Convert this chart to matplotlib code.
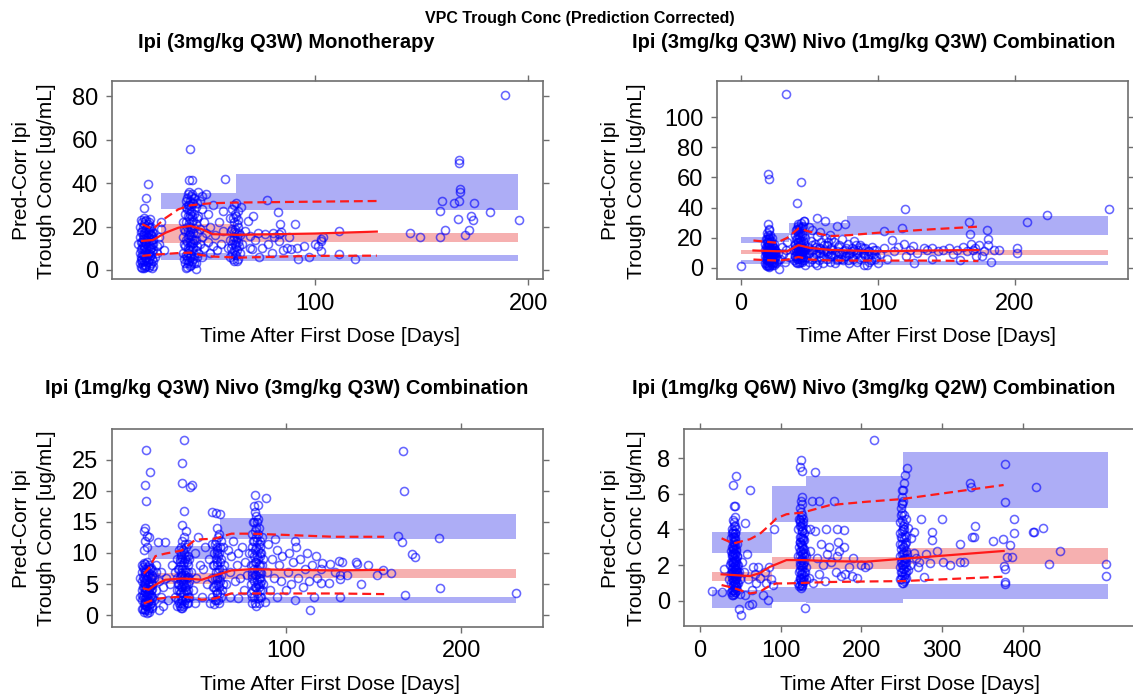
import matplotlib
matplotlib.use('Agg')
import matplotlib.pyplot as plt

plt.rcParams['font.family'] = ['Liberation Sans', 'DejaVu Sans']

W, H = 1133, 696

main_title = 'VPC Trough Conc (Prediction Corrected)'
panel_titles = ['Ipi (3mg/kg Q3W) Monotherapy',
                'Ipi (3mg/kg Q3W) Nivo (1mg/kg Q3W) Combination',
                'Ipi (1mg/kg Q3W) Nivo (3mg/kg Q3W) Combination',
                'Ipi (1mg/kg Q6W) Nivo (3mg/kg Q2W) Combination']
x_label = 'Time After First Dose [Days]'
y_label = ['Pred-Corr Ipi', 'Trough Conc [ug/mL]']

# ---------------- panel 1 : Ipi 3 mono ----------------
p1_obs = [(17, 12), (18, 3), (18, 8), (18, 15), (18, 20), (19, 1), (19, 5), (19, 10), (19, 13), (19, 18),
          (19, 22), (20, 0.8), (20, 4), (20, 7), (20, 11), (20, 14), (20, 17), (20, 21), (20, 24), (21, 2),
          (21, 6), (21, 9), (21, 12), (21, 16), (21, 19), (21, 23), (22, 1.5), (22, 5), (22, 8), (22, 13),
          (22, 15), (22, 18), (22, 22), (23, 3), (23, 7), (23, 10), (23, 14), (23, 20), (24, 4), (24, 9),
          (24, 12), (24, 17), (19.8, 28.8), (20.9, 33), (21.8, 39.8), (25, 6), (26, 11), (27, 15), (28, 19),
          (26, 8), (27, 12), (29, 9), (28, 22), (18.5, 6), (20.5, 2.5), (21.5, 10.5), (22.5, 19.5), (19.5, 16),
          (38, 8), (38, 15), (38, 22), (39, 3), (39, 11), (39, 18), (39, 26), (40, 1.5), (40, 6), (40, 13),
          (40, 20), (40, 28), (40, 33), (41, 4), (41, 9), (41, 16), (41, 24), (41, 30), (41, 36), (42, 2.5),
          (42, 7), (42, 12), (42, 19), (42, 27), (42, 34), (43, 5), (43, 10), (43, 17), (43, 23), (43, 31),
          (44, 3), (44, 14), (44, 21), (44, 29), (41.3, 55.7), (41.1, 41.4), (42.4, 41.6), (45, 8), (45, 25),
          (46, 12), (46, 19), (46, 32), (47, 6), (47, 15), (47, 28), (48, 10), (48, 22), (49, 17), (49, 35),
          (50, 13), (50, 26), (51, 8), (51, 20), (52, 30), (52, 11), (53, 16), (44, 0.5), (45, 36), (47, 34),
          (40.5, 25), (41.5, 20), (42.5, 31), (43.5, 14), (40.5, 10), (39.5, 32),
          (54, 9), (55, 22), (56, 12), (57, 27), (58, 41.8), (57, 18), (59, 10), (60, 24),
          (60, 6), (61, 12), (61, 19), (61, 28), (62, 4), (62, 9), (62, 15), (62, 22), (62, 30), (63, 7),
          (63, 11), (63, 17), (63, 25), (64, 5), (64, 13), (64, 20), (65, 8), (65, 16), (63, 31), (64, 27),
          (68.8, 22.6), (69.6, 15.7), (70.4, 9.5), (77.4, 32.2), (82.9, 26.5), (83.6, 21), (83, 16.5),
          (83, 13.4), (90.7, 21), (86.8, 10.3), (89, 9.5), (91.4, 10.3), (92.2, 4.9), (79.8, 8), (73.5, 17.2),
          (76.6, 16.5), (80.5, 17.2), (75, 10.3), (69.5, 10.3), (103.9, 15.2), (101.6, 11), (103, 8.8),
          (100, 12.2), (66, 12), (67, 18), (72, 14), (74, 6), (78, 12), (81, 15), (84, 17.5), (85, 9),
          (88, 15), (95, 11), (97, 6), (71, 25), (65.5, 29),
          (102.8, 14.3), (102.8, 13.2), (111.3, 17.9), (111.3, 7.2), (118.9, 4.9), (144.8, 17.1),
          (149.4, 15.3), (158.6, 15.3), (158.6, 27), (159.4, 31.6), (160.8, 18.6), (167.1, 23.7),
          (167.4, 31.6), (167.9, 37.3), (167.4, 49.2), (167.4, 50.7), (170.5, 16.3), (172.2, 18.6),
          (173, 25), (174.2, 23.2), (174.7, 31.1), (182, 26.7), (189, 80.5), (195.5, 23.2), (165, 31),
          (168, 36)]
p1_dense = [(18.5, 1.5), (18.5, 4.5), (18.5, 9.5), (18.5, 13), (18.5, 17.5), (18.5, 23), (19.5, 2.5),
            (19.5, 7), (19.5, 11.5), (19.5, 14.5), (19.5, 20), (20.5, 1.2), (20.5, 5.5), (20.5, 8.5),
            (20.5, 12.5), (20.5, 18.5), (20.5, 22.5), (21.5, 3.5), (21.5, 7.5), (21.5, 13.5), (21.5, 15),
            (21.5, 17.5), (21.5, 21), (22.5, 2.5), (22.5, 6.5), (22.5, 9.5), (22.5, 11), (22.5, 16.5),
            (22.5, 23.5), (23.5, 1), (23.5, 5), (23.5, 8.5), (23.5, 12), (23.5, 15.5), (23.5, 18), (19, 3.5),
            (20, 9.8), (21, 13.8), (22, 20), (23, 16.8), (24, 14.5), (24, 2), (19, 7.5), (20, 15.5), (21, 4.8),
            (38.5, 5), (38.5, 12), (38.5, 19), (39.5, 1), (39.5, 7), (39.5, 14), (39.5, 22), (39.5, 29),
            (40.5, 3), (40.5, 8), (40.5, 15), (40.5, 18), (40.5, 30), (40.5, 35), (41.5, 2), (41.5, 6),
            (41.5, 11), (41.5, 13), (41.5, 17.5), (41.5, 26), (41.5, 32), (42.5, 4), (42.5, 9), (42.5, 14.5),
            (42.5, 22), (42.5, 25), (42.5, 35), (43.5, 3), (43.5, 7.5), (43.5, 19.5), (43.5, 26), (43.5, 33),
            (44.5, 6), (44.5, 11), (44.5, 17), (44.5, 24), (44.5, 31), (40, 4.5), (41, 21.5), (42, 15.5),
            (43, 12.5), (44, 9), (42, 29.5), (41, 27.5),
            (60.5, 10), (60.5, 18), (61.5, 5), (61.5, 14), (61.5, 24), (62.5, 7), (62.5, 12), (62.5, 19),
            (62.5, 26), (63.5, 4), (63.5, 9), (63.5, 15), (63.5, 21), (64.5, 11), (64.5, 17), (61, 8),
            (62, 17.5), (63, 13.5), (64, 23), (60, 14)]
p1_bin_l = [28, 63.2]
p1_bin_r = [63.2, 195]
p1_up_lo = [28, 27.7]
p1_up_hi = [35.7, 44.2]
p1_md_lo = [12.5, 12.8]
p1_md_hi = [21, 17.1]
p1_lw_lo = [4.5, 4.0]
p1_lw_hi = [8, 7.0]
p1_t = [19, 24, 30, 36, 41.6, 47, 52, 64, 100, 129]
p1_med = [13.4, 13.8, 17.2, 19.5, 20.3, 18.8, 16.5, 16.2, 16.8, 17.7]
p1_p95 = [21.1, 18.8, 24.0, 28.0, 29.8, 30.4, 30.8, 31.1, 31.5, 31.8]
p1_p05 = [6.5, 7.0, 7.4, 7.8, 8.0, 6.8, 6.2, 5.7, 6.5, 6.6]

# ---------------- panel 2 : Ipi 3 + Nivo 1 ----------------
p2_obs = [(18, 3), (18, 8), (18, 12), (18, 16), (19, 1), (19, 5), (19, 10), (19, 14), (19, 19), (20, 2),
          (20, 6), (20, 9), (20, 11), (20, 13), (20, 17), (20, 22), (21, 0.5), (21, 4), (21, 7), (21, 12),
          (21, 15), (21, 20), (21, 25), (22, 3), (22, 8), (22, 10), (22, 14), (22, 18), (23, 2), (23, 6),
          (23, 11), (23, 16), (24, 4), (24, 9), (24, 13), (25, 7), (25, 12), (26, 3), (27, 10), (28, -0.4),
          (29, 6), (30, 14), (31, 9), (32, 4), (33, 12), (34, 17), (35, 7), (19.5, 7.5), (20.5, 4.5),
          (21.5, 9.5), (22.5, 12.5), (23.5, 8.5), (20.5, 15.5),
          (33.2, 115.6), (20.2, 62.2), (20.7, 58.9), (43.9, 57.3), (41, 43.3), (20.2, 28.9), (0, 1.6),
          (39, 5), (39, 12), (40, 8), (40, 16), (40, 22), (41, 3), (41, 10), (41, 14), (41, 19), (41, 26),
          (42, 6), (42, 12), (42, 17), (42, 24), (42, 29), (43, 4), (43, 9), (43, 15), (43, 21), (43, 27),
          (44, 7), (44, 11), (44, 18), (44, 30), (45, 5), (45, 13), (45, 23), (46, 9), (46, 16), (46, 31),
          (47, 2), (47, 12), (47, 20), (41.5, 7.5), (42.5, 10), (43.5, 13), (42.5, 20), (41.5, 22),
          (48, 7), (49, 14), (50, 4), (50, 10), (51, 18), (52, 6), (52, 25), (53, 12), (54, 3), (54, 16),
          (55, 9), (55.6, 33.3), (56, 21), (57, 5), (57, 13), (58, 10), (59, 17), (60, 3), (60, 8), (61, 12),
          (61.7, 31.1), (62, 20), (63, 6), (63, 15), (64, 10), (65, 4), (65, 22), (66, 13), (67, 8), (68, 17),
          (69, 3), (70, 11), (71, 6), (72, 15), (73, 9), (74, 19), (75, 5), (76, 12), (76.3, 29.3), (77, 8),
          (78, 16), (79, 3), (80, 10), (81, 13), (82, 6), (83, 18), (84, 9), (85, 4), (86, 12), (87, 15),
          (88, 7), (89, 10), (90, 2), (91, 13), (92.2, 1.8), (93, 8), (94, 11), (95, 5), (96, 14), (97, 9),
          (98, 6), (99, 12), (100, 3), (45.9, 31), (50, 27), (58, 24), (70, 28), (66, 19), (56, 2),
          (102, 9), (104.4, 24.4), (105, 13), (107, 6), (110.5, 18.4), (112, 11), (115, 14), (117.8, 26.7),
          (119, 16.2), (120, 38.9), (121, 8), (124, 12), (126, 14.4), (126.3, 3.3), (129, 10), (133.7, 13.3),
          (136, 12), (140, 13), (144, 11), (148, 12), (152, 13), (155, 9), (158, 12), (162, 14), (165, 11),
          (167, 30.7), (167.5, 22.5), (168, 16), (170, 12), (171, 13.5), (172, 8), (174, 15), (176, 8.1),
          (178, 11), (179.7, 25.2), (180.5, 19), (180.5, 15), (182.8, 3.8), (185, 12), (188.7, 11.9),
          (202, 13), (202, 9.7), (208.9, 30.7), (224, 35.1), (269, 39.1), (140, 6), (160, 5)]
p2_dense = [(18.5, 2), (18.5, 6), (18.5, 10), (18.5, 14), (18.5, 19), (19.5, 3), (19.5, 12), (19.5, 17),
            (19.5, 23), (20.5, 1), (20.5, 8), (20.5, 11), (20.5, 19), (20.5, 26), (21.5, 2), (21.5, 6),
            (21.5, 13), (21.5, 17), (21.5, 22), (22.5, 4), (22.5, 7), (22.5, 15), (22.5, 20), (23.5, 3),
            (23.5, 5), (23.5, 10), (23.5, 14), (24.5, 2), (24.5, 6), (24.5, 11), (24.5, 16), (19, 8), (20, 15),
            (21, 10), (22, 12), (23, 9), (24, 7), (25, 10), (26, 8), (27, 5),
            (39.5, 8), (39.5, 15), (40.5, 4), (40.5, 11), (40.5, 19), (40.5, 25), (41.5, 12), (41.5, 17),
            (41.5, 28), (42.5, 3), (42.5, 14), (42.5, 26), (43.5, 6), (43.5, 10), (43.5, 18), (43.5, 24),
            (44.5, 4), (44.5, 9), (44.5, 14), (44.5, 21), (44.5, 27), (45.5, 7), (45.5, 11), (45.5, 18),
            (45.5, 28), (46.5, 5), (46.5, 13), (46.5, 22), (40, 13), (41, 6), (42, 9), (43, 12), (44, 16),
            (45, 10), (46, 12),
            (49, 9), (51, 12), (53, 7), (55, 14), (57, 10), (59, 7), (61, 15), (63, 11), (65, 8), (67, 12),
            (69, 9), (71, 14), (73, 6), (75, 11), (77, 13), (79, 9), (81, 7), (83, 12), (85, 10), (87, 6),
            (89, 13), (91, 8), (93, 11), (95, 9), (97, 12), (99, 7), (52, 15), (58, 13), (64, 17), (70, 5),
            (76, 8), (82, 11), (88, 14), (94, 4), (60, 11), (66, 9), (72, 10), (78, 5), (84, 15), (90, 9)]
p2_bin_l = [0, 17, 35, 50, 77.6]
p2_bin_r = [17, 35, 50, 77.6, 268.5]
p2_up_lo = [16.6, 17, 22, 22, 21.9]
p2_up_hi = [20.8, 23, 30, 29.6, 34.2]
p2_md_lo = [9.3, 9.5, 10, 9.5, 8.7]
p2_md_hi = [12, 12.5, 13, 12.2, 11.6]
p2_lw_lo = [2.5, 2.8, 3, 2.5, 2.0]
p2_lw_hi = [5.0, 5.2, 5.5, 5.0, 4.6]
p2_t = [9.3, 26.3, 34, 42.2, 50.7, 65.4, 80, 99.5, 138.5, 173.6]
p2_med = [11.6, 11.1, 11.1, 15.1, 13.3, 12.0, 11.6, 11.1, 11.6, 11.9]
p2_p95 = [18.2, 16.7, 20.0, 26.2, 24.0, 21.1, 21.8, 23.3, 25.6, 27.4]
p2_p05 = [5.6, 4.9, 5.5, 7.3, 5.6, 5.0, 4.9, 4.9, 4.9, 4.6]

# ---------------- panel 3 : Ipi 1 + Nivo 3 Q3W ----------------
p3_obs = [(17, 3), (17, 6), (18, 1), (18, 2.5), (18, 4), (18, 5.5), (18, 7), (18, 8), (19, 0.5), (19, 1.8),
          (19, 3.2), (19, 4.5), (19, 6), (19, 7.5), (19, 10.5), (19, 13.5), (20, 1), (20, 2.2), (20, 3.8),
          (20, 5), (20, 6.5), (20, 8.2), (20, 12), (21, 0.3), (21, 1.5), (21, 2.8), (21, 4.2), (21, 5.8),
          (21, 7), (21, 11), (22, 1.2), (22, 2.5), (22, 3.5), (22, 5.2), (22, 6.8), (22, 8), (22, 12.5),
          (23, 2), (23, 4), (23, 6), (23, 7.6), (24, 1.5), (24, 3), (24, 5), (24, 7.2), (25, 2.5), (25, 6),
          (26, 4), (26, 8), (27, 11.8), (28, 0.8), (28, 5.5), (29, 3), (29, 7), (30, 4.5), (31, 11.8), (32, 6),
          (33, 2.5), (34, 5), (35, 8), (20.1, 26.5), (22.5, 23), (19.7, 20.9), (20.6, 18.3), (20, 14),
          (21, 12.8), (26, 7), (30, 1.5), (19.5, 2.6), (20.5, 4.4), (21.5, 6.3), (22.5, 1.8), (18.5, 7.8),
          (37, 3), (37, 7), (38, 1.5), (38, 4), (38, 6), (38, 9), (39, 2), (39, 5), (39, 7.5), (39, 10.5),
          (40, 1.2), (40, 3), (40, 5.5), (40, 8), (40, 11), (41, 2.5), (41, 4.5), (41, 6.5), (41, 9), (41, 12),
          (42, 1.8), (42, 3.5), (42, 6), (42, 8.5), (42, 10), (43, 2.8), (43, 5), (43, 7), (43, 9.5),
          (43, 13.5), (44, 4), (44, 6.2), (44, 8), (44, 11.5), (45, 3), (45, 5.5), (45, 9), (41, 14.5),
          (42, 16.8), (41.7, 28.1), (41.1, 24.5), (41.1, 21.3), (46.8, 20.9), (45.5, 20.6), (46, 7), (47, 4),
          (48, 10), (49, 6), (50, 12.6), (51, 8), (52, 3), (53, 7.5), (54, 11), (55, 5), (56, 9), (57, 2),
          (58, 11.5), (48, 2), (40.5, 3.8), (41.5, 5.2), (42.5, 7.2), (43.5, 2), (39.5, 9),
          (58, 3), (58, 6), (59, 1.8), (59, 4.5), (59, 8), (59, 10), (60, 2.5), (60, 5), (60, 7), (60, 9),
          (60, 12), (61, 3.5), (61, 6), (61, 8.5), (61, 11), (62, 2), (62, 4.5), (62, 7.5), (62, 10), (62, 13),
          (63, 3), (63, 6.5), (63, 9), (64, 5), (64, 11), (57.7, 16.5), (62.4, 16.3), (60, 16.4), (61, 14),
          (65, 8), (66, 5), (67, 10.5), (68, 3), (68, 7), (69, 9.5), (70, 12), (71, 5.5), (72, 8), (73, 2.8),
          (73, 10), (74, 6), (75, 11), (76, 4), (77, 8.5), (78, 6.5), (79, 10), (80, 3.5),
          (80, 5), (80, 8), (81, 2), (81, 6), (81, 10), (81, 13), (82, 3), (82, 5.5), (82, 7.5), (82, 9.5),
          (82, 12), (82, 15), (83, 1.5), (83, 4.5), (83, 6.5), (83, 8.5), (83, 11), (83, 14), (83, 16),
          (84, 2.8), (84, 5), (84, 7), (84, 9), (84, 10.5), (84, 13), (85, 4), (85, 6), (85, 8), (85, 12),
          (86, 3), (86, 6.8), (86, 10), (87, 5), (87, 9), (82.5, 19.3), (88.7, 18.9), (84, 17.7), (88, 2.2),
          (89, 7), (90, 11.5), (91, 4), (92, 9), (93, 6), (94, 12.2), (95, 3), (96, 8), (97, 5.5),
          (98, 9.5), (100, 4), (101, 7), (102, 10), (103, 5), (104, 8.5), (105, 2.5), (106, 11), (107, 6),
          (108, 9), (110, 4.5), (111, 7.5), (112, 10), (113, 5.5), (114, 0.9), (115, 8), (116, 3), (117, 9.5),
          (118, 6), (120, 7.5), (119.8, 5.2), (120.6, 8.4), (124.5, 5.2), (125.3, 8.2), (128, 7), (130, 8.7),
          (131, 6.4), (131, 5.9), (131, 2.9), (131.8, 8.6), (135, 6.5), (139.9, 8.6), (140.4, 8.2), (143, 5),
          (147, 8), (152.2, 6.4), (155.3, 7.3), (159.7, 6.8), (163.9, 12.7), (166.3, 11.7), (166.7, 26.3),
          (167.3, 20), (167.7, 3.2), (172.1, 9.8), (173.3, 9.3), (187.4, 12.4), (188, 4.4), (231.2, 3.5),
          (105, 12), (95, 10.5)]
p3_dense = [(18.5, 1), (18.5, 3), (18.5, 4.5), (18.5, 6.2), (19.5, 0.8), (19.5, 2), (19.5, 3.8), (19.5, 5.5),
            (19.5, 7), (20.5, 1.5), (20.5, 3), (20.5, 5.8), (20.5, 7.5), (21.5, 0.8), (21.5, 2.2), (21.5, 3.6),
            (21.5, 5), (21.5, 7.8), (22.5, 3), (22.5, 4.5), (22.5, 6), (22.5, 7.5), (23.5, 1.2), (23.5, 2.8),
            (23.5, 4.8), (23.5, 6.5), (18, 3.3), (19, 5.2), (20, 4.4), (21, 3.4), (22, 4.2), (23, 5.3),
            (24, 4.2), (24, 6.3), (20, 7), (21, 8.5), (22, 0.6), (19, 8.4), (23, 3.2), (20, 1.7),
            (38.5, 2.5), (38.5, 5), (38.5, 7.5), (39.5, 1.5), (39.5, 3.5), (39.5, 6), (39.5, 8.5), (40.5, 2),
            (40.5, 4.5), (40.5, 6.5), (40.5, 9.5), (41.5, 1.5), (41.5, 3.5), (41.5, 5.5), (41.5, 8),
            (41.5, 10.5), (42.5, 2.5), (42.5, 4.5), (42.5, 6.5), (42.5, 9), (42.5, 11.5), (43.5, 3.5),
            (43.5, 6), (43.5, 8.5), (44.5, 2), (44.5, 5), (44.5, 7), (44.5, 9.5), (40, 6.8), (41, 7.5),
            (42, 5), (43, 4), (44, 3), (40, 9.8), (42, 12.5), (43, 11), (39, 4), (41, 1.2),
            (58.5, 4.5), (58.5, 8), (59.5, 2.5), (59.5, 6), (59.5, 11.5), (60.5, 3.5), (60.5, 6), (60.5, 8),
            (60.5, 10.5), (61.5, 2.5), (61.5, 5), (61.5, 7), (61.5, 9.5), (61.5, 12.5), (62.5, 3.5),
            (62.5, 5.5), (62.5, 8.5), (62.5, 11), (63.5, 4), (63.5, 7.5), (60, 4), (61, 10), (62, 6), (63, 12),
            (80.5, 3), (80.5, 6.5), (80.5, 11), (81.5, 4), (81.5, 8), (81.5, 12), (81.5, 15), (82.5, 2),
            (82.5, 4.5), (82.5, 6.5), (82.5, 8.5), (82.5, 10.5), (82.5, 13.5), (82.5, 16.5), (83.5, 3.5),
            (83.5, 5.5), (83.5, 7.5), (83.5, 9.5), (83.5, 12), (83.5, 15), (84.5, 2), (84.5, 4.5), (84.5, 6),
            (84.5, 8), (84.5, 11.5), (84.5, 14), (85.5, 3), (85.5, 5), (85.5, 7), (85.5, 9.5), (85.5, 11),
            (86.5, 4), (86.5, 8), (86.5, 12.5), (82, 17.5), (83, 12.5), (84, 15.5), (85, 10), (86, 5.5), (81, 7)]
p3_bin_l = [21.7, 62.6, 85]
p3_bin_r = [62.6, 85, 231]
p3_up_lo = [9.1, 12.3, 12.3]
p3_up_hi = [11.2, 15.6, 16.2]
p3_md_lo = [5.0, 5.9, 6.0]
p3_md_hi = [6.8, 7.5, 7.5]
p3_lw_lo = [1.9, 2.0, 1.9]
p3_lw_hi = [2.9, 3.0, 2.9]
p3_t = [19.1, 21.9, 25.7, 31.3, 40.7, 48.3, 52, 59.6, 69, 80.2, 100, 127.3, 156]
p3_med = [4.3, 4.1, 4.9, 5.7, 5.9, 5.8, 5.7, 6.4, 7.2, 7.4, 7.3, 7.2, 7.3]
p3_p95 = [6.7, 7.5, 9.5, 9.9, 10.4, 12.1, 12.2, 12.3, 13.1, 13.1, 12.9, 12.6, 12.6]
p3_p05 = [1.9, 2.2, 2.6, 2.8, 3.0, 2.8, 2.5, 2.7, 3.5, 3.5, 3.5, 3.5, 3.4]

# ---------------- panel 4 : Ipi 1 Q6W + Nivo 3 Q2W ----------------
p4_obs = [(36, 1.2), (37, 2), (38, 0.5), (38, 1.5), (38, 2.8), (39, 1), (39, 2.2), (39, 3.5), (40, 0.3),
          (40, 1.3), (40, 1.8), (40, 2.5), (40, 3), (40, 4), (41, 0.6), (41, 1.1), (41, 1.6), (41, 2.1),
          (41, 2.7), (41, 3.3), (41, 4.5), (42, 0.4), (42, 0.9), (42, 1.4), (42, 1.9), (42, 2.4), (42, 2.9),
          (42, 3.6), (42, 4.2), (43, 0.7), (43, 1.2), (43, 1.7), (43, 2.3), (43, 3.1), (43, 3.8), (43, 4.7),
          (44, 0.5), (44, 1), (44, 1.5), (44, 2), (44, 2.6), (44, 3.4), (45, 0.8), (45, 1.3), (45, 1.8),
          (45, 2.2), (45, 2.8), (46, 0.6), (46, 1.5), (46, 2.5), (47, 1), (47, 2), (48, 1.6), (49, 0.4),
          (50, 1.2), (44.5, 7.0), (41.2, 6.5), (42, 5.3), (43, 5.3), (61.9, 6.2), (55.7, 4.37), (14.4, 0.56),
          (26.8, 0.47), (30, 1.8), (50.3, -0.8), (48.7, -0.47), (63.9, -0.2), (61, -0.24), (84.5, 0.04),
          (52, 2.2), (55, 1.6), (58, 2.6), (60, 1.2), (65, 0.6), (68, 1.5), (70, 1.0), (72, 1.9), (75, 1.3),
          (78, 0.3), (80, 1.6), (82, 1.0), (85, 1.9), (88, 1.2), (90, 0.9), (92, 4.0), (56, 0.3), (66, 1.9),
          (122, 1), (122, 2.5), (122, 4), (123, 0.8), (123, 1.6), (123, 3), (123, 4.6), (124, 1.2), (124, 2),
          (124, 2.8), (124, 3.6), (124, 5.2), (125, 0.7), (125, 1.5), (125, 2.3), (125, 3.2), (125, 4.2),
          (125, 5.6), (126, 1), (126, 1.9), (126, 2.6), (126, 3.5), (126, 4.8), (127, 0.9), (127, 1.7),
          (127, 2.4), (127, 3), (127, 3.9), (127, 5.8), (128, 1.3), (128, 2.1), (128, 2.9), (128, 4.4),
          (129, 1.1), (129, 2.2), (129, 3.4), (130, 1.6), (130, 2.7), (131, 1.9), (131, 4), (132, 1.2),
          (132, 2.5), (130, -0.39), (125.8, 7.89), (123.7, 7.5), (126, 7.3), (142.3, 7.23), (135, 1.3),
          (137, 2.8), (140, 1.0), (142, 3.9), (145, 2.4), (147, 1.5), (150, 3.2), (152, 2.0), (155, 1.1),
          (158, 2.6), (160, 3.0), (163, 2.2), (165.8, 5.59), (168, 1.6), (170, 2.5), (172, 2.8), (175, 1.4),
          (178, 3.0), (180, 1.5), (185, 1.9), (190, 2.4), (195, 1.3), (200, 2.0), (205, 1.9), (137, 4.0),
          (139, 5.6), (148, 5.6), (215.7, 9.0), (170, 4.0), (188, 1.4), (179, 3.96), (171, 3.3),
          (156.7, 4.05), (208, 2.0),
          (248, 1.2), (248, 2.5), (248, 3.8), (249, 1.6), (249, 2.9), (249, 5.2), (250, 1), (250, 2),
          (250, 3.2), (250, 4.5), (250, 6.2), (251, 1.4), (251, 2.3), (251, 3.5), (251, 4.9), (252, 1.8),
          (252, 2.7), (252, 4), (252, 5.6), (253, 1.1), (253, 2.1), (253, 3), (253, 4.3), (253, 6.6),
          (254, 1.5), (254, 2.4), (254, 3.7), (254, 7.05), (255, 1.9), (255, 2.8), (255, 4.6), (256, 1.3),
          (256, 2.2), (256, 3.3), (256.6, 7.42), (257, 2.6), (258, 1.7), (258, 4.1), (260, 2.0), (262, 3.5),
          (265.7, 3.88), (268, 2.4), (270, 1.9), (272, 2.2), (274, 4.58), (277.3, 1.35), (280, 2.6),
          (287.6, 3.88), (287.6, 3.41), (293.8, 2.79), (300, 4.58), (301.2, 2.15), (321.9, 2.15),
          (321.9, 3.16), (326.9, 2.15), (334.3, 6.58), (336, 6.4), (337.2, 3.59), (339.3, 3.59),
          (341.3, 4.21), (363.2, 3.35), (376, 3.44), (377.3, 1.97), (377.7, 1.78), (377.7, 1.07),
          (377.7, 0.92), (378.5, 7.65), (378.5, 5.52), (380.6, 2.47), (384.7, 3.12), (386.8, 2.47),
          (388.8, 4.58), (388.8, 3.78), (412.3, 3.84), (413.6, 3.88), (416.9, 6.36), (425.2, 4.09),
          (432.5, 2.06), (446, 2.77), (503.7, 2.04), (503.7, 1.4), (285, 2.1), (310, 2.0), (265, 2.7)]
p4_dense = [(39.5, 0.6), (39.5, 1.6), (39.5, 2.6), (39.5, 3.8), (40.5, 0.9), (40.5, 1.5), (40.5, 2.2),
            (40.5, 2.9), (40.5, 3.6), (41.5, 0.3), (41.5, 0.8), (41.5, 1.3), (41.5, 1.9), (41.5, 2.5),
            (41.5, 3), (41.5, 3.8), (42.5, 0.6), (42.5, 1.1), (42.5, 1.6), (42.5, 2.2), (42.5, 2.7),
            (42.5, 3.3), (42.5, 4.4), (43.5, 0.5), (43.5, 1), (43.5, 1.5), (43.5, 2), (43.5, 2.6), (43.5, 3.5),
            (44.5, 0.8), (44.5, 1.2), (44.5, 1.7), (44.5, 2.3), (44.5, 2.9), (44.5, 4), (45.5, 1), (45.5, 1.6),
            (45.5, 2.5), (45.5, 3.2), (40, 2.2), (42, 3.2), (44, 3.8), (43, 4.2), (41, 3.9), (46, 2), (47, 1.5),
            (123.5, 1.3), (123.5, 2.2), (123.5, 3.3), (123.5, 4.2), (124.5, 0.9), (124.5, 1.7), (124.5, 2.5),
            (124.5, 3.3), (124.5, 4.5), (125.5, 1.2), (125.5, 2), (125.5, 2.8), (125.5, 3.6), (125.5, 5),
            (126.5, 0.8), (126.5, 1.5), (126.5, 2.3), (126.5, 3.1), (126.5, 4.1), (126.5, 5.4), (127.5, 1.1),
            (127.5, 2), (127.5, 2.7), (127.5, 3.5), (127.5, 4.6), (128.5, 1.6), (128.5, 2.5), (128.5, 3.8),
            (129.5, 1.4), (129.5, 2.9), (125, 1.1), (126, 3.9), (127, 4.3), (128, 3.4), (124, 4.4), (125, 4.7),
            (248.5, 1.9), (248.5, 3.2), (248.5, 4.4), (249.5, 1.2), (249.5, 2.2), (249.5, 3.6), (249.5, 4.8),
            (250.5, 1.6), (250.5, 2.6), (250.5, 3.9), (250.5, 5.5), (251.5, 1), (251.5, 2), (251.5, 3),
            (251.5, 4.2), (252.5, 1.4), (252.5, 2.4), (252.5, 3.5), (252.5, 4.8), (253.5, 1.8), (253.5, 2.7),
            (253.5, 4), (254.5, 1.2), (254.5, 2.1), (254.5, 3.2), (255.5, 1.6), (255.5, 2.4), (255.5, 3.6),
            (250, 5.8), (252, 6.2), (251, 5.4)]
p4_bin_l = [14.4, 88.7, 131, 251.5]
p4_bin_r = [88.7, 131, 251.5, 505.4]
p4_up_lo = [2.69, 4.43, 4.43, 5.22]
p4_up_hi = [3.87, 6.43, 6.99, 8.36]
p4_md_lo = [1.10, 1.78, 1.76, 2.04]
p4_md_hi = [1.59, 2.47, 2.45, 2.97]
p4_lw_lo = [-0.39, -0.06, -0.12, 0.10]
p4_lw_hi = [0.60, 0.75, 0.72, 0.92]
p4_t = [26.8, 41.2, 61.9, 74.2, 86.6, 94.8, 107.2, 127.8, 160.8, 206.2, 250, 376.4]
p4_med = [1.48, 1.44, 1.38, 1.55, 1.9, 2.05, 2.28, 2.28, 2.22, 2.19, 2.35, 2.79]
p4_p95 = [3.5, 3.21, 3.45, 3.75, 4.25, 4.62, 4.85, 4.95, 5.36, 5.55, 5.7, 6.49]
p4_p05 = [0.88, 0.72, 0.41, 0.5, 0.85, 0.97, 0.97, 1.0, 1.05, 1.08, 1.1, 1.35]

panels = [
    dict(obs=p1_obs + p1_dense, bl=p1_bin_l, br=p1_bin_r, ul=p1_up_lo, uh=p1_up_hi, ml=p1_md_lo,
         mh=p1_md_hi, ll=p1_lw_lo, lh=p1_lw_hi, t=p1_t, med=p1_med, p95=p1_p95, p05=p1_p05,
         xlim=(4.7, 206.8), ylim=(-4.3, 86.9), xt=[100, 200], yt=[0, 20, 40, 60, 80]),
    dict(obs=p2_obs + p2_dense, bl=p2_bin_l, br=p2_bin_r, ul=p2_up_lo, uh=p2_up_hi, ml=p2_md_lo,
         mh=p2_md_hi, ll=p2_lw_lo, lh=p2_lw_hi, t=p2_t, med=p2_med, p95=p2_p95, p05=p2_p05,
         xlim=(-17.1, 283.1), ylim=(-7.5, 123.6), xt=[0, 100, 200], yt=[0, 20, 40, 60, 80, 100]),
    dict(obs=p3_obs + p3_dense, bl=p3_bin_l, br=p3_bin_r, ul=p3_up_lo, uh=p3_up_hi, ml=p3_md_lo,
         mh=p3_md_hi, ll=p3_lw_lo, lh=p3_lw_hi, t=p3_t, med=p3_med, p95=p3_p95, p05=p3_p05,
         xlim=(0.8, 246.3), ylim=(-1.8, 29.9), xt=[100, 200], yt=[0, 5, 10, 15, 20, 25]),
    dict(obs=p4_obs + p4_dense, bl=p4_bin_l, br=p4_bin_r, ul=p4_up_lo, uh=p4_up_hi, ml=p4_md_lo,
         mh=p4_md_hi, ll=p4_lw_lo, lh=p4_lw_hi, t=p4_t, med=p4_med, p95=p4_p95, p05=p4_p05,
         xlim=(-19.8, 538), ylim=(-1.40, 9.63), xt=[0, 100, 200, 300, 400], yt=[0, 2, 4, 6, 8]),
]

# layout in pixels (left, right, top, bottom)
boxes = [(111.7, 542.7, 81.5, 279.3), (717.3, 1128.3, 81.5, 279.3),
         (111.7, 542.7, 429, 626.5), (684, 1134, 429, 625.7)]
title_pos = [(286.6, 42), (874, 42), (286.6, 388), (874, 388)]
ylab_pos = [((21.7, 47), 181), ((610, 636.5), 181), ((21.7, 47), 528), ((610.3, 636.5), 528)]
xlab_pos = [(330, 337), (926, 337), (330, 685), (910.5, 684)]

blue_box = '#ADADF6'
pink_box = '#F6B0B0'
frame = '#6E6E6E'
red = '#FF1A1A'

fig = plt.figure(figsize=(W / 100, H / 100), dpi=100)

for i, p in enumerate(panels):
    l, r, t, b = boxes[i]
    ax = fig.add_axes([l / W, 1 - b / H, (r - l) / W, (b - t) / H])
    widths = [br - bl for bl, br in zip(p['bl'], p['br'])]
    ax.bar(p['bl'], [h - lo for lo, h in zip(p['ul'], p['uh'])], width=widths, bottom=p['ul'],
           align='edge', color=blue_box, linewidth=0, zorder=1)
    ax.bar(p['bl'], [h - lo for lo, h in zip(p['ml'], p['mh'])], width=widths, bottom=p['ml'],
           align='edge', color=pink_box, linewidth=0, zorder=1)
    ax.bar(p['bl'], [h - lo for lo, h in zip(p['ll'], p['lh'])], width=widths, bottom=p['ll'],
           align='edge', color=blue_box, linewidth=0, zorder=1)
    ox = [o[0] for o in p['obs']]
    oy = [o[1] for o in p['obs']]
    ax.plot(ox, oy, linestyle='none', marker='o', ms=5.8, mfc='none', mec=(0, 0, 1, 0.6),
            mew=1.15, zorder=2)
    ax.plot(p['t'], p['med'], color=red, lw=1.6, zorder=3)
    ax.plot(p['t'], p['p95'], color=red, lw=1.6, dashes=(4, 2.2), zorder=3)
    ax.plot(p['t'], p['p05'], color=red, lw=1.6, dashes=(4, 2.2), zorder=3)

    ax.set_xlim(*p['xlim'])
    ax.set_ylim(*p['ylim'])
    ax.set_xticks(p['xt'])
    ax.set_yticks(p['yt'])
    ax.tick_params(direction='out', top=True, right=True, length=4, width=1, color=frame,
                   labelsize=17, pad=6)
    for s in ax.spines.values():
        s.set_color(frame)
        s.set_linewidth(1.2)

    fig.text(title_pos[i][0] / W, 1 - title_pos[i][1] / H, panel_titles[i], ha='center',
             va='center', fontsize=14.5, fontweight='bold')
    (x1, x2), yc = ylab_pos[i]
    fig.text(x1 / W, 1 - yc / H, y_label[0], rotation=90, ha='center', va='center', fontsize=15)
    fig.text(x2 / W, 1 - yc / H, y_label[1], rotation=90, ha='center', va='center', fontsize=15)
    fig.text(xlab_pos[i][0] / W, 1 - xlab_pos[i][1] / H, x_label, ha='center', va='center',
             fontsize=15)

fig.text(580 / W, 1 - 19 / H, main_title, ha='center', va='center', fontsize=11.5, fontweight='bold')

fig.savefig('out.png', dpi=100)
